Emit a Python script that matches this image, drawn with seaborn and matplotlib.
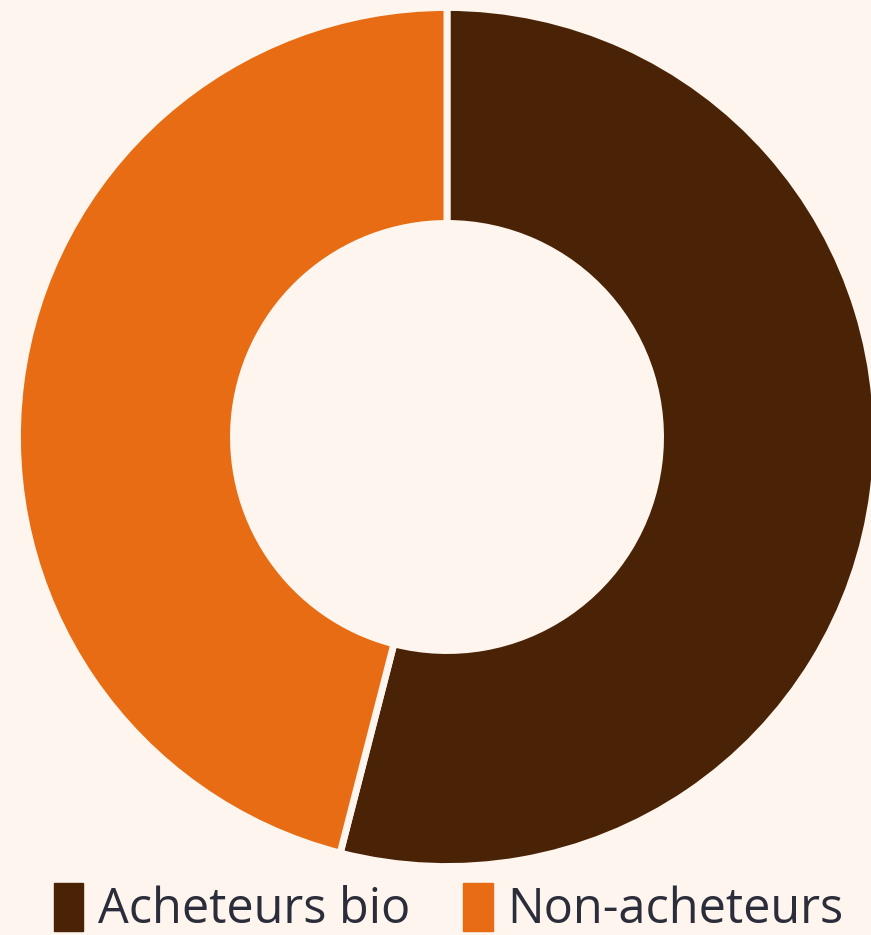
import matplotlib
matplotlib.use("Agg")
import matplotlib.pyplot as plt
import seaborn as sns
from matplotlib.patches import Patch

categories = ["Acheteurs bio", "Non-acheteurs"]
values = [54, 46]
colors = ["#4A2306", "#E86C13"]
bg = "#FDF5EE"

sns.set_theme(style="white")
plt.rcParams['font.family'] = ['Open Sans', 'DejaVu Sans']

fig = plt.figure(figsize=(8.71, 9.35), dpi=100, facecolor=bg)
ax = fig.add_axes([20/871, 71/935, 854/871, 854/935])
ax.set_facecolor(bg)
wedges, _ = ax.pie(values, colors=colors, startangle=90, counterclock=False,
                   radius=1.006,
                   wedgeprops=dict(width=0.506, edgecolor=bg, linewidth=5))
ax.set_xlim(-1, 1)
ax.set_ylim(-1, 1)
ax.set_aspect('equal')
ax.axis('off')

handles = [Patch(facecolor=c, edgecolor=c, label=l) for c, l in zip(colors, categories)]
leg = fig.legend(handles=handles, loc='lower center', bbox_to_anchor=(0.515, -0.047),
                 ncol=2, frameon=False, fontsize=35, handlelength=0.6, handleheight=1.15,
                 handletextpad=0.3, columnspacing=1.1, labelcolor="#2B2D3A")
fig.savefig("out.png", dpi=100, facecolor=bg)
